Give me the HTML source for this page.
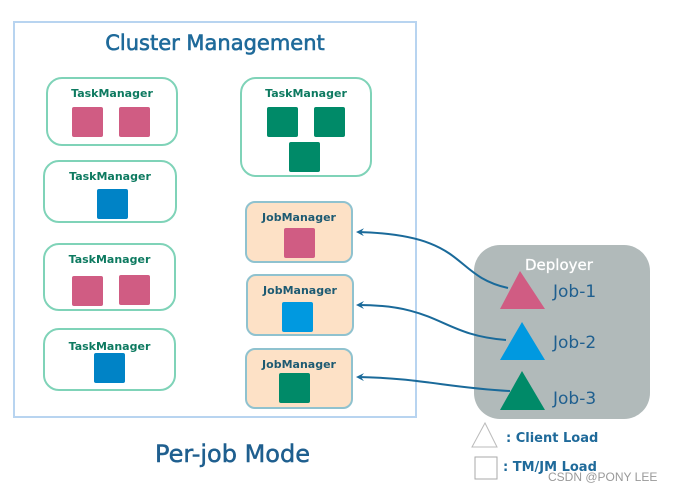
<!DOCTYPE html>
<html><head><style>
body{margin:0;width:675px;height:492px;background:#fff;overflow:hidden;font-family:"DejaVu Sans","Liberation Sans",sans-serif}
.a{position:absolute}
.tm{position:absolute;border:2.5px solid #7fd3b8;border-radius:16px;box-sizing:border-box;background:#fff}
.jm{position:absolute;border:2.5px solid #8fc2cf;border-radius:10px;box-sizing:border-box;background:#fde1c6}
.lb{position:absolute;left:0;right:0;text-align:center;font-size:11px;font-weight:bold;color:#0d7a60;top:8px}
.jl{color:#1d5a72}
.sq{position:absolute;width:31px;height:30px;border-radius:2px}
.p{background:#d05c83}.b{background:#0083c6}.g{background:#008a68}.lb2{background:#0099e0}
</style></head><body>
<div class="a" style="left:13px;top:21px;width:404px;height:397px;border:2px solid #b8d4f0;box-sizing:border-box"></div>
<div class="a" style="left:13px;top:31px;width:404px;text-align:center;font-size:21px;color:#1f6a9a;-webkit-text-stroke:0.6px #1f6a9a">Cluster Management</div>

<div class="tm" style="left:46px;top:77px;width:132px;height:69px"><div class="lb">TaskManager</div></div>
<div class="sq p" style="left:72px;top:107px"></div><div class="sq p" style="left:119px;top:107px"></div>
<div class="tm" style="left:43px;top:160px;width:134px;height:63px"><div class="lb">TaskManager</div></div>
<div class="sq b" style="left:97px;top:189px"></div>
<div class="tm" style="left:43px;top:243px;width:133px;height:68px"><div class="lb">TaskManager</div></div>
<div class="sq p" style="left:72px;top:276px"></div><div class="sq p" style="left:119px;top:275px"></div>
<div class="tm" style="left:43px;top:328px;width:133px;height:63px"><div class="lb" style="top:10px">TaskManager</div></div>
<div class="sq b" style="left:94px;top:353px"></div>
<div class="tm" style="left:240px;top:77px;width:132px;height:100px"><div class="lb">TaskManager</div></div>
<div class="sq g" style="left:267px;top:107px"></div><div class="sq g" style="left:314px;top:107px"></div><div class="sq g" style="left:289px;top:142px"></div>

<div class="jm" style="left:245px;top:201px;width:108px;height:62px"><div class="lb jl">JobManager</div></div>
<div class="sq p" style="left:284px;top:228px"></div>
<div class="jm" style="left:246px;top:274px;width:108px;height:62px"><div class="lb jl">JobManager</div></div>
<div class="sq lb2" style="left:282px;top:302px"></div>
<div class="jm" style="left:245px;top:348px;width:108px;height:61px"><div class="lb jl">JobManager</div></div>
<div class="sq g" style="left:279px;top:373px"></div>

<div class="a" style="left:474px;top:245px;width:176px;height:174px;background:#b1baba;border-radius:26px"></div>
<div class="a" style="left:525px;top:256px;font-size:15px;color:#fff;-webkit-text-stroke:0.3px #fff">Deployer</div>
<svg class="a" style="left:0;top:0" width="675" height="492">
<defs><marker id="m" markerWidth="8" markerHeight="8" refX="6" refY="4" orient="auto" markerUnits="userSpaceOnUse"><path d="M0,0 L8,4 L0,8 L3,4z" fill="#1a6a9a"/></marker></defs>
<g fill="none" stroke="#1a6a9a" stroke-width="2">
<path d="M508,288 C450,275 470,235 358,232" marker-end="url(#m)"/>
<path d="M506,340 C440,335 440,305 358,305" marker-end="url(#m)"/>
<path d="M510,391 C450,388 420,378 358,377" marker-end="url(#m)"/>
</g>
<polygon points="520,271 545,309 500,309" fill="#d05c83"/>
<polygon points="522,322 545,360 500,360" fill="#0099e0"/>
<polygon points="522,371 545,410 500,410" fill="#008a68"/>
<polygon points="485,423 497,447 472,447" fill="none" stroke="#bbb" stroke-width="1"/>
<rect x="475" y="457" width="22" height="22" fill="none" stroke="#aaa"/>
</svg>
<div class="a" style="left:553px;top:282px;font-size:17px;color:#1f5f8f">Job-1</div>
<div class="a" style="left:553px;top:333px;font-size:17px;color:#1f5f8f">Job-2</div>
<div class="a" style="left:553px;top:389px;font-size:17px;color:#1f5f8f">Job-3</div>
<div class="a" style="left:506px;top:431px;font-size:13px;font-weight:bold;color:#1f6a9a">: Client Load</div>
<div class="a" style="left:503px;top:460px;font-size:13px;font-weight:bold;color:#1f6a9a">: TM/JM Load</div>
<div class="a" style="left:548px;top:470px;font-size:12px;color:#999;font-family:'Liberation Sans',sans-serif">CSDN @PONY LEE</div>
<div class="a" style="left:155px;top:440px;font-size:24px;color:#1f5f8f;-webkit-text-stroke:0.5px #1f5f8f">Per-job Mode</div>
</body></html>
